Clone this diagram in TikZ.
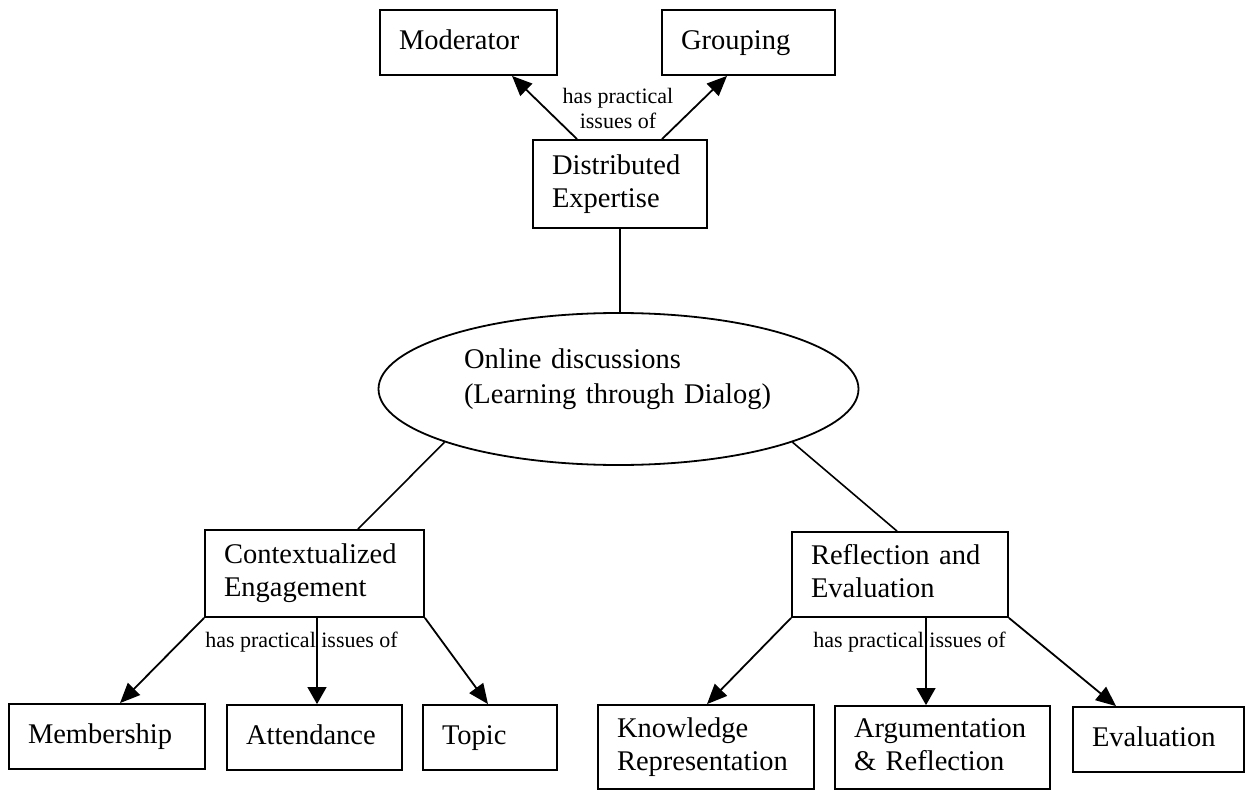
\documentclass[tikz,border=0pt]{standalone}
\usepackage{fontspec}
\setmainfont{Liberation Serif}
\usetikzlibrary{arrows.meta,calc,shapes.geometric}
\newcommand\mfont{\fontsize{28.5}{33}\selectfont}
\newcommand\efont{\fontsize{28.5}{35}\selectfont}
\newcommand\lfont{\fontsize{22}{25}\selectfont}
\begin{document}
\begin{tikzpicture}[x=1pt,y=-1pt,
  box/.style n args={3}{draw, line width=1.8pt, inner xsep=19pt, inner ysep=0pt,
    align=left, font=\mfont, minimum width=#1, text width=#2, minimum height=#3},
  lab/.style={font=\lfont, inner sep=0pt},
  ln/.style={line width=1.6pt},
  arr/.style={line width=1.8pt, -{Triangle[length=20pt,width=17pt]}},
  varr/.style={line width=1.1pt, -{Triangle[length=17pt,width=19pt]}}]
\fill[white] (0,0) rectangle (1246,791);
\useasboundingbox (0,0) rectangle (1246,791);

% boxes
\node[box={177pt}{139pt}{65pt}] (Mod) at (468.5,42.5) {\strut Moderator};
\node[box={173pt}{135pt}{65pt}] (Grp) at (748.5,42.5) {\strut Grouping};
\node[box={174pt}{136pt}{88pt}] (DE) at (620,184) {\strut Distributed\\Expertise\strut};
\node[draw, ellipse, line width=1.8pt, inner sep=0pt, minimum width=480pt,
      minimum height=152pt, text width=309pt, align=left, font=\efont]
      (OD) at (618.5,389) {\strut Online discussions\\(Learning through Dialog)\rule[-31.5pt]{0pt}{1pt}};
\node[box={219pt}{181pt}{87pt}] (CE) at (314.5,573.5) {\strut Contextualized\\Engagement\strut};
\node[box={216pt}{178pt}{85pt}] (RE) at (900,574.5) {\strut Reflection and\\Evaluation\strut};
\node[box={196pt}{158pt}{65pt}] (Mem) at (107,736.5) {\strut Membership};
\node[box={175pt}{137pt}{65pt}] (Att) at (314.5,737.5) {\strut Attendance};
\node[box={134pt}{96pt}{65pt}] (Top) at (490,737.5) {\strut Topic};
\node[box={216pt}{178pt}{84pt}] (KR) at (706,747) {\strut Knowledge\\Representation\strut};
\node[box={215pt}{177pt}{83pt}] (AR) at (942.5,747.5) {\strut Argumentation\\\&\ Reflection\strut};
\node[box={171pt}{133pt}{65pt}] (Ev) at (1158.5,739.5) {\strut Evaluation};

% labels
\node[lab, align=center, anchor=north] (L1) at (618,85.5) {\strut has practical\\issues of\strut};
\node[lab, anchor=base west] (L2) at ($(CE.south west)+(1,30)$) {has practical issues of};
\node[lab, anchor=base west] (L3) at ($(RE.south west)+(22,30)$) {has practical issues of};

% connectors
\draw[arr] ($(DE.north)+(-43,0)$) -- ($(Mod.south)+(43.5,0)$);
\draw[arr] ($(DE.north)+(42,0)$) -- ($(Grp.south)+(-21.5,0)$);
\draw[ln] (DE.south) -- (DE.south |- OD.north);
\draw[ln] (OD.197) -- ($(CE.north)+(43.5,0)$);
\draw[ln] (OD.343) -- ($(RE.north)+(-3,0)$);
\draw[arr] (CE.south west) -- ($(Mem.north)+(13,0)$);
\draw[varr] ($(CE.south)+(2.5,0)$) -- ($(Att.north)+(2.5,0)$);
\draw[arr] (CE.south east) -- ($(Top.north)+(-2,0)$);
\draw[arr] (RE.south west) -- ($(KR.north)+(1,0)$);
\draw[varr] ($(RE.south)+(26,0)$) -- ($(AR.north)+(-16.5,0)$);
\draw[arr] (RE.south east) -- ($(Ev.north)+(-42.5,0)$);
\end{tikzpicture}
\end{document}
